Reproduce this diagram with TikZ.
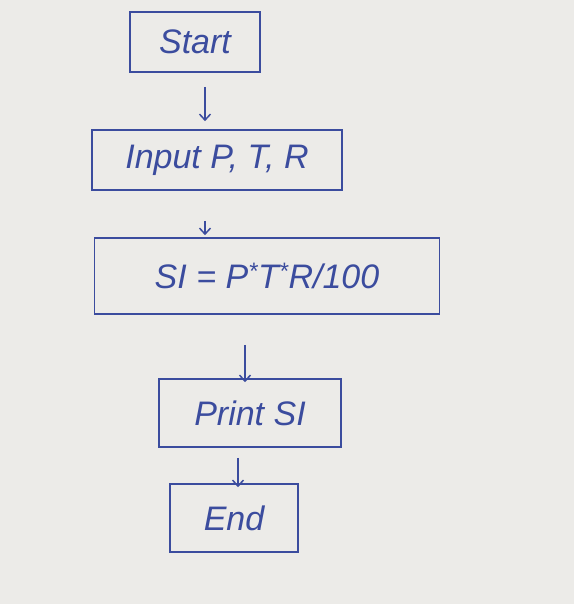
\documentclass[tikz,border=0pt]{standalone}
\usepackage{fontspec}
\setmainfont{Liberation Sans}
\usetikzlibrary{positioning,calc,arrows.meta}
\definecolor{paper}{HTML}{ECEBE8}
\definecolor{ink}{HTML}{3B4C9E}

\begin{document}
\begin{tikzpicture}[x=1pt, y=-1pt]
\tikzset{
  stepbox/.style={draw=ink, line width=1.6pt, text=ink, inner sep=0pt, font=\fontsize{34}{38}\selectfont\itshape},
  arr/.style={draw=ink, line width=1.5pt, -{Straight Barb[length=6pt,width=11pt]}}
}
\fill[paper] (0,0) rectangle (574,604);
\useasboundingbox (0,0) rectangle (574,604);
\node[stepbox, minimum width=130pt, minimum height=60pt] (start) at (195,42) {Start};
\node[stepbox, minimum width=250pt, minimum height=60pt] (input) at (217,160) {Input P, T, R};
\node[stepbox, minimum width=345pt, minimum height=76pt] (calc) at (267,276) {SI = P\textsuperscript{*}T\textsuperscript{*}R/100};
\node[stepbox, minimum width=182pt, minimum height=68pt] (print) at (250,413) {Print SI};
\node[stepbox, minimum width=128pt, minimum height=68pt] (end) at (234,518) {End};
\draw[arr] ([xshift=10pt,yshift=-14pt]start.south) -- ([xshift=-12pt,yshift=8pt]input.north);
\draw[arr] ([xshift=-12pt,yshift=-30pt]input.south) -- ([xshift=-62pt,yshift=2pt]calc.north);
\draw[arr] ([xshift=-22pt,yshift=-30pt]calc.south) -- ([xshift=-5pt,yshift=-4pt]print.north);
\draw[arr] ([xshift=-12pt,yshift=-10pt]print.south) -- ([xshift=4pt,yshift=-4pt]end.north);
\end{tikzpicture}
\end{document}
